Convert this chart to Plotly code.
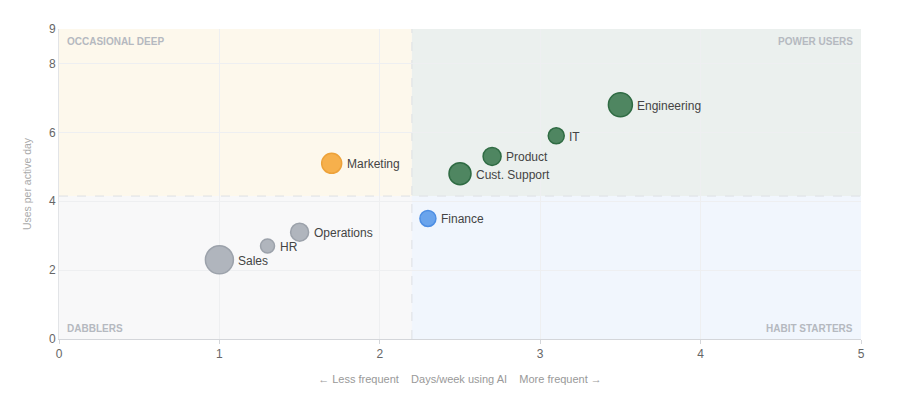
import plotly.graph_objects as go

departments = ["Engineering", "IT", "Product", "Cust. Support", "Finance",
               "Marketing", "Operations", "HR", "Sales"]
days_per_week = [3.5, 3.1, 2.7, 2.5, 2.3, 1.7, 1.5, 1.3, 1.0]
uses_per_day = [6.8, 5.9, 5.3, 4.8, 3.5, 5.1, 3.1, 2.7, 2.3]
bubble_size = [24, 16, 18, 22, 16, 20, 18, 14, 28]
segment = ["power", "power", "power", "power", "habit",
           "occasional", "dabbler", "dabbler", "dabbler"]

x_split = 2.2
y_split = 4.15
x_range = [0, 5]
y_range = [0, 9]
x_ticks = [0, 1, 2, 3, 4, 5]
y_ticks = [0, 2, 4, 6, 8, 9]

quadrants = [
    ("OCCASIONAL DEEP", x_range[0], x_split, y_split, y_range[1], "#fdf8ec"),
    ("POWER USERS", x_split, x_range[1], y_split, y_range[1], "#ebf0ee"),
    ("DABBLERS", x_range[0], x_split, y_range[0], y_split, "#f8f8f9"),
    ("HABIT STARTERS", x_split, x_range[1], y_range[0], y_split, "#f1f6fd"),
]

seg_fill = {"power": "#4f8661", "habit": "#6aa4ec", "occasional": "#f6b04c", "dabbler": "#b0b5bd"}
seg_line = {"power": "#2f6b43", "habit": "#4d8ee3", "occasional": "#eda23a", "dabbler": "#9ca2ab"}

fig = go.Figure()

shapes = []
for name, x0, x1, y0, y1, fill in quadrants:
    shapes.append(dict(type="rect", xref="x", yref="y", x0=x0, x1=x1, y0=y0, y1=y1,
                       fillcolor=fill, line=dict(width=0), layer="below"))
shapes.append(dict(type="line", xref="x", yref="y", x0=x_split, x1=x_split,
                   y0=y_range[0], y1=y_range[1],
                   line=dict(color="#dde0e4", width=1, dash="dash"), layer="below"))
shapes.append(dict(type="line", xref="x", yref="y", x0=x_range[0], x1=x_range[1],
                   y0=y_split, y1=y_split,
                   line=dict(color="#dde0e4", width=1, dash="dash"), layer="below"))

annotations = []
label_pos = {
    "OCCASIONAL DEEP": (x_range[0], y_range[1], "left", "top", 6, -5),
    "POWER USERS": (x_range[1], y_range[1], "right", "top", -6, -5),
    "DABBLERS": (x_range[0], y_range[0], "left", "bottom", 6, 3),
    "HABIT STARTERS": (x_range[1], y_range[0], "right", "bottom", -6, 3),
}
for name, *_ in quadrants:
    lx, ly, ax, ay, sx, sy = label_pos[name]
    annotations.append(dict(x=lx, y=ly, xref="x", yref="y", text="<b>" + name + "</b>",
                            showarrow=False, xanchor=ax, yanchor=ay, xshift=sx, yshift=sy,
                            font=dict(size=10, color="#b5b9c0", family="Liberation Sans")))

# point labels, placed right of each bubble
for d, xv, yv, s in zip(departments, days_per_week, uses_per_day, bubble_size):
    annotations.append(dict(x=xv, y=yv, xref="x", yref="y", text=d, showarrow=False,
                            xanchor="left", yanchor="middle", xshift=s / 2 + 3, yshift=-1,
                            font=dict(size=12, color="#444444", family="Liberation Sans")))

fig.add_trace(go.Scatter(
    x=days_per_week, y=uses_per_day, mode="markers",
    text=departments,
    marker=dict(size=bubble_size, color=[seg_fill[s] for s in segment],
                line=dict(color=[seg_line[s] for s in segment], width=1.5), opacity=1),
    hoverinfo="text", showlegend=False, cliponaxis=False,
))

fig.update_layout(
    width=890, height=390,
    margin=dict(l=51, r=37, t=21, b=59),
    paper_bgcolor="white", plot_bgcolor="white",
    shapes=shapes, annotations=annotations,
    font=dict(family="Liberation Sans", color="#666666"),
    xaxis=dict(range=x_range, tickvals=x_ticks, showgrid=True, gridcolor="#eeeff1",
               zeroline=False, showline=True, linecolor="#d4d6da", ticks="outside",
               ticklen=4, tickcolor="#d4d6da", tickfont=dict(size=12, color="#666666"),
               automargin=False,
               title=dict(text="← Less frequent    Days/week using AI    More frequent →",
                          font=dict(size=11, color="#999999"), standoff=14)),
    yaxis=dict(range=y_range, tickvals=y_ticks, showgrid=True, gridcolor="#eeeff1",
               zeroline=False, showline=True, linecolor="#e2e4e7",
               tickfont=dict(size=12, color="#666666"), automargin=False,
               title=dict(text="Uses per active day", font=dict(size=10.5, color="#aaaaaa"),
                          standoff=15)),
)

fig.write_html("out.html")
